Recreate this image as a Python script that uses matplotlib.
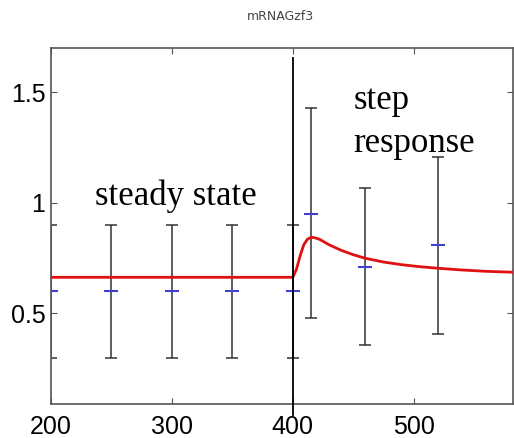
import matplotlib
matplotlib.use("Agg")
import matplotlib.pyplot as plt

# simulated curve
sim_t = [200, 300, 399, 400, 403, 406, 409, 412, 415, 418, 422, 430, 440, 450,
         460, 475, 490, 505, 520, 540, 560, 582]
sim_y = [0.663, 0.663, 0.663, 0.663, 0.70, 0.76, 0.81, 0.835, 0.844, 0.842, 0.835,
         0.81, 0.785, 0.765, 0.749, 0.732, 0.72, 0.711, 0.704, 0.696, 0.69, 0.686]

# measured data with error bars
meas_t = [200, 250, 300, 350, 400, 415, 460, 520]
meas_y = [0.60, 0.60, 0.60, 0.60, 0.60, 0.948, 0.708, 0.808]
meas_lo = [0.30, 0.30, 0.30, 0.30, 0.30, 0.477, 0.355, 0.405]
meas_hi = [0.90, 0.90, 0.90, 0.90, 0.90, 1.428, 1.066, 1.206]

step_time = 400

fig = plt.figure(figsize=(5.14, 4.38), dpi=100)
ax = fig.add_axes([0.0992, 0.0776, 0.8988, 0.8128])

yerr = [[m - lo for m, lo in zip(meas_y, meas_lo)],
        [hi - m for m, hi in zip(meas_y, meas_hi)]]
ax.errorbar(meas_t, meas_y, yerr=yerr, fmt='none', ecolor='#333333',
            elinewidth=1.1, capsize=4, capthick=1.1, zorder=2)
ax.plot(meas_t, meas_y, linestyle='none', marker='_', markersize=10,
        markeredgewidth=1.5, color='#4040d0', zorder=3)
ax.plot(sim_t, sim_y, color='#e01010', linewidth=2, zorder=4)

ax.plot([step_time, step_time], [0.04, 1.655], color='black', linewidth=1.3,
        clip_on=False, zorder=5)

serif = 'Liberation Serif'
ax.text(236, 0.991, 'steady state', fontsize=25, family=serif,
        ha='left', va='baseline')
ax.text(450, 1.423, 'step', fontsize=25, family=serif,
        ha='left', va='baseline')
ax.text(450, 1.228, 'response', fontsize=25, family=serif,
        ha='left', va='baseline')

fig.text(280 / 514, 1 - 16 / 438, 'mRNAGzf3', fontsize=9, color='#444444',
         ha='center', va='center')

ax.set_xlim(200, 582)
ax.set_ylim(0.09, 1.70)
ax.set_xticks([200, 300, 400, 500])
ax.set_yticks([0.5, 1, 1.5])
ax.set_yticklabels(['0.5', '1', '1.5'])
ax.tick_params(direction='in', top=True, right=True, length=4,
               labelsize=18, color='#555555', pad=4)
ax.tick_params(axis='x', pad=8)
for lab in ax.get_xticklabels() + ax.get_yticklabels():
    lab.set_family('Liberation Sans')
for s in ax.spines.values():
    s.set_color('#555555')
    s.set_linewidth(1.2)

fig.savefig('out.png', dpi=100)
